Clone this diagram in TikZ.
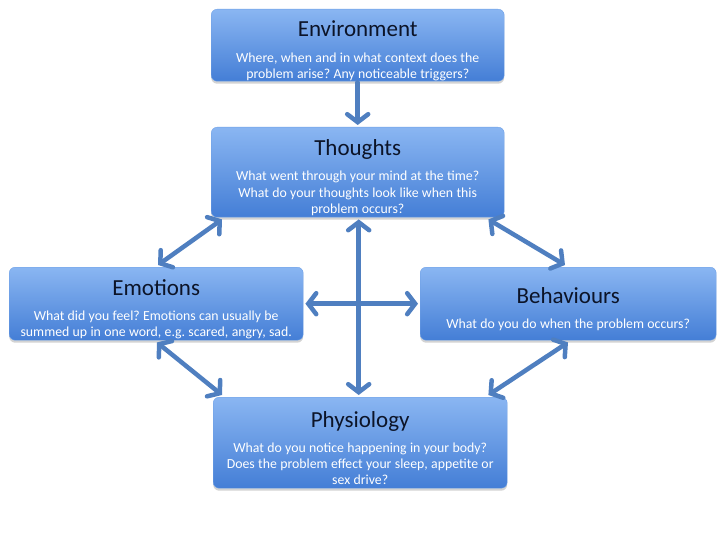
\documentclass[tikz,border=0pt]{standalone}
\usepackage{fontspec}
\setmainfont{Carlito}
\usetikzlibrary{arrows.meta,shadows}
\definecolor{boxtop}{RGB}{138,182,242}
\definecolor{boxbot}{RGB}{68,126,214}
\definecolor{boxline}{RGB}{110,160,230}
\definecolor{arrowblue}{RGB}{79,127,192}
\definecolor{titlecol}{RGB}{12,20,40}
\tikzset{
  cardbox/.style={rectangle, rounded corners=6pt, top color=boxtop, bottom color=boxbot,
    draw=boxline, line width=0.4pt, align=center, inner sep=0pt, text width=#1,
    drop shadow={opacity=0.35, shadow xshift=0pt, shadow yshift=-2.5pt},
    anchor=north west},
  link/.style={draw=arrowblue, line width=4.5pt, line cap=round},
  mybarb/.tip={Straight Barb[length=8pt,width=21pt,line cap=round]},
}
\newcommand{\ttl}[1]{{\fontsize{23}{27}\selectfont\color{titlecol}\rule{0pt}{27pt}#1\par}\vspace{9pt}}
\newcommand{\bdy}[1]{{\fontsize{13.8}{16.2}\selectfont\color{white}#1\par}}
\frenchspacing
\begin{document}
\begin{tikzpicture}[x=1pt,y=-1pt]
\useasboundingbox (0,0) rectangle (720,540);
\node[cardbox=293pt, minimum height=72pt] (env) at (211,9)
  {\ttl{Environment}\bdy{Where, when and in what context does the\\problem arise? Any noticeable triggers?}};
\node[cardbox=293pt, minimum height=90pt] (tho) at (211,127)
  {\ttl{Thoughts}\bdy{What went through your mind at the time?\\What do your thoughts look like when this\\problem occurs?}};
\node[cardbox=294pt, minimum height=73pt] (emo) at (9,267)
  {\ttl{Emotions}\bdy{What did you feel? Emotions can usually be\\summed up in one word, e.g. scared, angry, sad.}};
\node[cardbox=296pt, minimum height=73pt] (beh) at (420,267)
  {\ttl{Behaviours}\bdy{What do you do when the problem occurs?}};
\node[cardbox=294pt, minimum height=91pt] (phy) at (213,397)
  {\ttl{Physiology}\bdy{What do you notice happening in your body?\\Does the problem effect your sleep, appetite or\\sex drive?}};

\path[link, -mybarb] ([yshift=-1pt]env.south) -- ([yshift=2pt]tho.north);
\path[link, mybarb-mybarb] ([xshift=1pt,yshift=-2pt]tho.south) -- ([xshift=1pt,yshift=2pt]tho.south |- phy.north);
\path[link, mybarb-mybarb] ([xshift=2pt]emo.east) -- ([xshift=-2pt]beh.west);
\path[link, mybarb-mybarb] ([xshift=11pt,yshift=-2pt]tho.south west) -- ([xshift=149pt,yshift=2pt]emo.north west);
\path[link, mybarb-mybarb] ([xshift=-16pt,yshift=-2pt]tho.south east) -- ([xshift=145pt,yshift=2pt]beh.north west);
\path[link, mybarb-mybarb] ([xshift=148pt,yshift=-2pt]emo.south west) -- ([xshift=9pt,yshift=2pt]phy.north west);
\path[link, mybarb-mybarb] ([xshift=148pt,yshift=-2pt]beh.south west) -- ([xshift=-19pt,yshift=2pt]phy.north east);
\end{tikzpicture}
\end{document}
